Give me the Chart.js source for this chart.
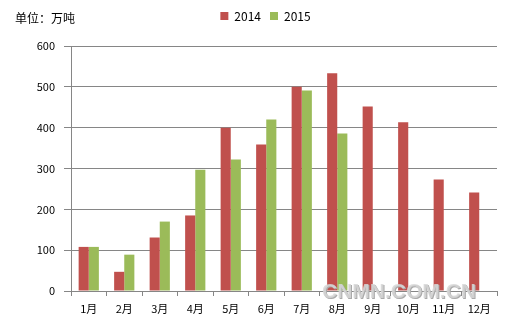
<!DOCTYPE html>
<html lang="zh">
<head>
  <meta charset="UTF-8" />
  <title>月度产量</title>
  <script src="https://cdn.jsdelivr.net/npm/chart.js"></script>
  <style>
    body { margin: 0; background: #fff; }
    #wrap { position: relative; width: 532px; height: 323px; }
    #unit { position: absolute; left: 15px; top: 9px; font: 12px "Noto Sans CJK SC", sans-serif; color: #000; }
    #mark { position: absolute; left: 322px; top: 279px; font: bold 21px "Liberation Sans", Arial, sans-serif;
            color: rgba(215,215,215,0.85); text-shadow: 1px 1px 0 #aaa; letter-spacing: 0px; }
  </style>
</head>
<body>
  <div id="wrap">
    <canvas id="chart" width="532" height="323"></canvas>
    <div id="unit">单位：万吨</div>
    <div id="mark">CNMN.COM.CN</div>
  </div>
  <script>
    const months = ['1月', '2月', '3月', '4月', '5月', '6月', '7月', '8月', '9月', '10月', '11月', '12月'];
    const y2014 = [108, 47, 131, 185, 400, 359, 500, 533, 452, 413, 273, 241];
    const y2015 = [108, 89, 170, 297, 322, 420, 491, 386];

    const font = { family: '"Noto Sans CJK SC", sans-serif', size: 11 };
    const axisGray = '#868686';

    // fix legend block height and nudge it right, like the original
    const legendPlace = {
      id: 'legendPlace',
      beforeInit(chart) {
        const fit = chart.legend.fit;
        chart.legend.fit = function () {
          fit.bind(chart.legend)();
          this.height = 45;
        };
      },
      afterLayout(chart) {
        chart.legend.left += 17;
        chart.legend.right += 17;
      }
    };

    new Chart(document.getElementById('chart'), {
      type: 'bar',
      data: {
        labels: months,
        datasets: [
          { label: '2014', data: y2014, backgroundColor: '#C0504D' },
          { label: '2015', data: y2015, backgroundColor: '#9BBB59' }
        ]
      },
      options: {
        responsive: false,
        animation: false,
        datasets: { bar: { categoryPercentage: 0.57, barPercentage: 1.0 } },
        layout: { padding: { top: 1, right: 35, left: 0, bottom: 0 } },
        plugins: {
          legend: {
            position: 'top',
            labels: { boxWidth: 8, boxHeight: 8, padding: 9, color: '#000', font: { ...font, size: 12 } }
          },
          tooltip: { enabled: false }
        },
        scales: {
          y: {
            min: 0, max: 600,
            ticks: { stepSize: 100, color: '#000', font, padding: 9 },
            grid: { color: axisGray, tickLength: 7 },
            border: { color: axisGray },
            afterFit(s) { s.width = 71; }
          },
          x: {
            ticks: { color: '#000', font, padding: 6 },
            grid: { drawOnChartArea: false, color: axisGray, tickLength: 5 },
            border: { color: axisGray },
            afterFit(s) { s.height = 32; }
          }
        }
      },
      plugins: [legendPlace]
    });
  </script>
</body>
</html>
